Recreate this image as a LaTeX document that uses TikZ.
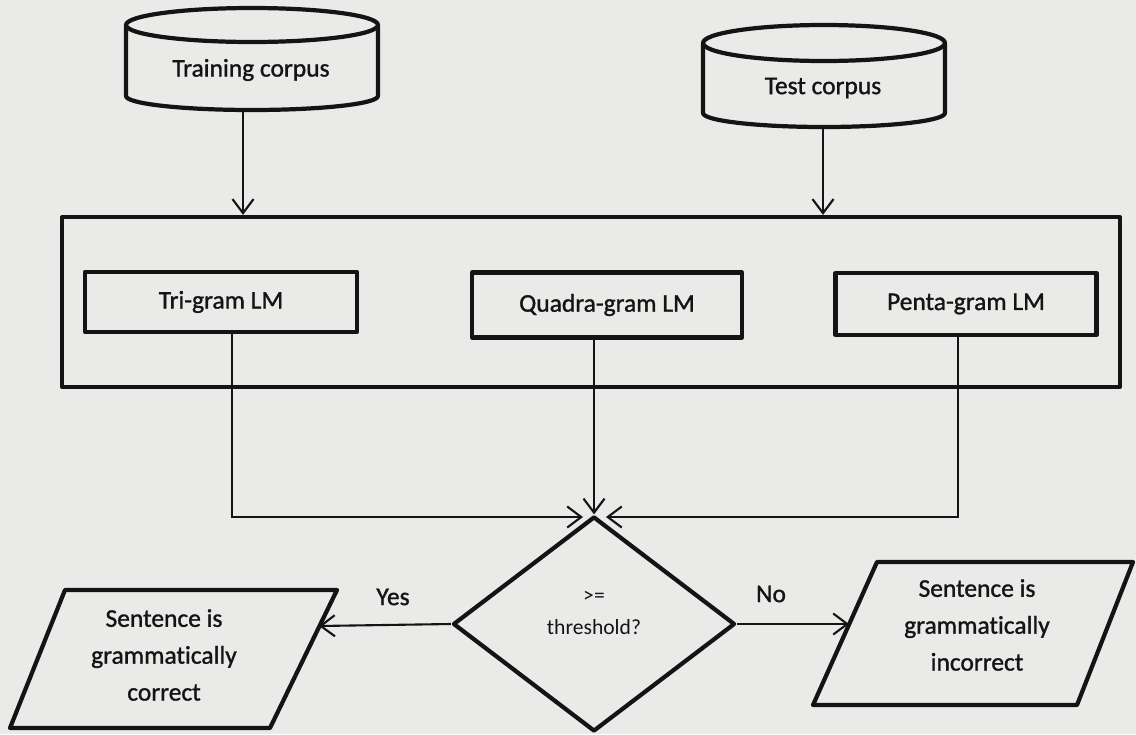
\documentclass[tikz,border=0pt]{standalone}
\usepackage{fontspec}
\setmainfont{Carlito}[Ligatures=NoCommon]
\newfontfamily\heavy{Carlito}[Ligatures=NoCommon,FakeBold=1.2]
\usetikzlibrary{arrows.meta,shapes.geometric}
\definecolor{bg}{RGB}{234,235,233}
\definecolor{ink}{RGB}{20,20,20}
\begin{document}
\begin{tikzpicture}[x=0.02cm,y=-0.02cm,
  thickline/.style={line width=2.4pt, draw=ink, line join=round},
  lmbox/.style={thickline, rectangle, inner sep=0pt, font=\heavy\fontsize{14.5}{21}\selectfont, text=ink},
  lbl/.style={font=\heavy\fontsize{14.5}{21}\selectfont, text=ink, align=center, inner sep=0pt},
  small/.style={font=\fontsize{12.3}{16}\selectfont, text=ink, inner sep=0pt},
  arr/.style={line width=1.2pt, draw=ink, -{Straight Barb[length=8pt,width=12pt,line width=1.2pt]}}]
\fill[bg] (0,0) rectangle (1136,734);
\useasboundingbox (0,0) rectangle (1136,734);
% cylinders
\draw[thickline] (252,25) ellipse [x radius=2.52cm, y radius=0.34cm];
\draw[thickline] (126,25) -- (126,96) arc[start angle=180, end angle=360, x radius=2.52cm, y radius=0.28cm] -- (378,25);
\node[lbl] (train) at (251,70) {Training corpus};
\coordinate (trainout) at (243,110);
\draw[thickline] (824,43) ellipse [x radius=2.42cm, y radius=0.36cm];
\draw[thickline] (703,43) -- (703,113) arc[start angle=180, end angle=360, x radius=2.42cm, y radius=0.28cm] -- (945,43);
\node[lbl] (test) at (823,88) {Test corpus};
\coordinate (testout) at (823,127);
% LM boxes
\node[thickline, rectangle, minimum width=21.16cm, minimum height=3.4cm] (big) at (591,302) {};
\node[lmbox, minimum width=5.44cm, minimum height=1.2cm] (tri) at (221,302) {Tri-gram LM};
\node[lmbox, minimum width=5.4cm, minimum height=1.3cm] (quad) at (607,305) {Quadra-gram LM};
\node[lmbox, minimum width=5.22cm, minimum height=1.24cm] (penta) at (966,304) {Penta-gram LM};
\draw[arr] (trainout) -- (trainout |- big.north);
\draw[arr] (testout) -- (testout |- big.north);
% decision
\node[thickline, diamond, minimum width=5.64cm, minimum height=4.3cm, inner sep=0pt] (dec) at (594,624) {};
\node[small] (ge) at (594,597) {>=};
\node[small] (thr) at (594,627) {threshold?};
\coordinate (triout) at (232,332);
\coordinate (lin) at (583,517);
\coordinate (pentout) at (958,335);
\coordinate (rin) at (606,517);
\draw[arr] (triout) |- (lin);
\draw[arr] (pentout) |- (rin);
\draw[arr] (dec.north |- quad.south) -- (dec.north);
% outputs
\draw[thickline] (65,590) -- (337,590) -- (270,728) -- (10,728) -- cycle;
\node[lbl] (corr) at (164,655) {Sentence is\\grammatically\\correct};
\coordinate (corrin) at (319,626);
\draw[thickline] (877,562) -- (1133,562) -- (1077,705) -- (813,705) -- cycle;
\node[lbl] (incorr) at (977,625) {Sentence is\\grammatically\\incorrect};
\coordinate (incin) at (849,624);
\draw[arr] (dec.west) -- (corrin);
\draw[arr] (dec.east) -- (incin);
\node[lbl] (yes) at (393,597) {Yes};
\node[lbl] (no) at (771,594) {No};
\end{tikzpicture}
\end{document}
